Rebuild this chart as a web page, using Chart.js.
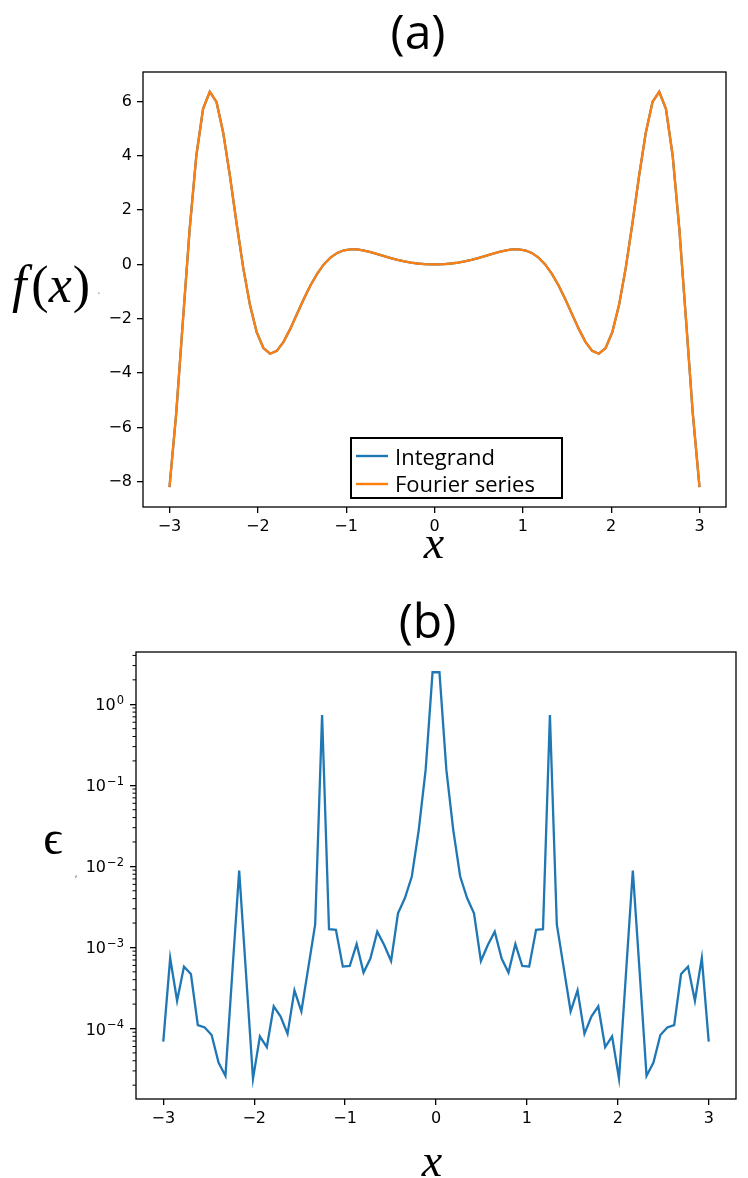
<!DOCTYPE html>
<html>
<head>
<meta charset="utf-8">
<script src="https://cdn.jsdelivr.net/npm/chart.js@4.4.1/dist/chart.umd.min.js"></script>
<style>
html,body{margin:0;padding:0;background:#fff;}
#wrap{position:relative;width:748px;height:1178px;overflow:hidden;}
canvas{position:absolute;left:0;}
#ca{top:0;}
#cb{top:580px;}
</style>
</head>
<body>
<div id="wrap">
<canvas id="ca" width="748" height="580"></canvas>
<canvas id="cb" width="748" height="598"></canvas>
</div>
<script>
// ---------- data ----------
const xValues = [
 -3.000,-2.924,-2.848,-2.772,-2.696,-2.620,-2.544,-2.468,-2.392,-2.316,
 -2.241,-2.165,-2.089,-2.013,-1.937,-1.861,-1.785,-1.709,-1.633,-1.557,
 -1.481,-1.405,-1.329,-1.253,-1.177,-1.101,-1.025,-0.949,-0.873,-0.797,
 -0.722,-0.646,-0.570,-0.494,-0.418,-0.342,-0.266,-0.190,-0.114,-0.038,
  0.038, 0.114, 0.190, 0.266, 0.342, 0.418, 0.494, 0.570, 0.646, 0.722,
  0.797, 0.873, 0.949, 1.025, 1.101, 1.177, 1.253, 1.329, 1.405, 1.481,
  1.557, 1.633, 1.709, 1.785, 1.861, 1.937, 2.013, 2.089, 2.165, 2.241,
  2.316, 2.392, 2.468, 2.544, 2.620, 2.696, 2.772, 2.848, 2.924, 3.000
];
const integrandValues = [
 -8.200,-5.482,-2.067, 1.294, 4.011, 5.733, 6.357, 5.983, 4.851, 3.263,
  1.520,-0.127,-1.496,-2.489,-3.076,-3.286,-3.182,-2.849,-2.371,-1.827,
 -1.279,-0.775,-0.344, 0.001, 0.255, 0.425, 0.522, 0.559, 0.552, 0.512,
  0.452, 0.381, 0.308, 0.237, 0.172, 0.116, 0.070, 0.036, 0.013, 0.001,
  0.001, 0.013, 0.036, 0.070, 0.116, 0.172, 0.237, 0.308, 0.381, 0.452,
  0.512, 0.552, 0.559, 0.522, 0.425, 0.255, 0.001,-0.344,-0.775,-1.279,
 -1.827,-2.371,-2.849,-3.182,-3.286,-3.076,-2.489,-1.496,-0.127, 1.520,
  3.263, 4.851, 5.983, 6.357, 5.733, 4.011, 1.294,-2.067,-5.482,-8.200
];
const fourierValues = [
 -8.200,-5.482,-2.067, 1.294, 4.011, 5.733, 6.357, 5.983, 4.851, 3.263,
  1.520,-0.127,-1.496,-2.489,-3.076,-3.286,-3.182,-2.849,-2.371,-1.827,
 -1.279,-0.775,-0.344, 0.001, 0.255, 0.425, 0.522, 0.559, 0.552, 0.512,
  0.452, 0.381, 0.308, 0.237, 0.172, 0.116, 0.070, 0.036, 0.013, 0.001,
  0.001, 0.013, 0.036, 0.070, 0.116, 0.172, 0.237, 0.308, 0.381, 0.452,
  0.512, 0.552, 0.559, 0.522, 0.425, 0.255, 0.001,-0.344,-0.775,-1.279,
 -1.827,-2.371,-2.849,-3.182,-3.286,-3.076,-2.489,-1.496,-0.127, 1.520,
  3.263, 4.851, 5.983, 6.357, 5.733, 4.011, 1.294,-2.067,-5.482,-8.200
];
const errorValues = [
 6.9e-5, 7.4e-4, 2.2e-4, 5.8e-4, 4.7e-4, 1.1e-4, 1.03e-4, 8.3e-5, 3.8e-5, 2.6e-5,
 4.8e-4, 8.9e-3, 4.6e-4, 2.4e-5, 8.0e-5, 5.9e-5, 1.88e-4, 1.4e-4, 8.6e-5, 2.96e-4,
 1.63e-4, 5.6e-4, 1.92e-3, 0.738, 1.68e-3, 1.65e-3, 5.8e-4, 5.9e-4, 1.1e-3, 4.9e-4,
 7.3e-4, 1.56e-3, 1.07e-3, 6.8e-4, 2.64e-3, 4.07e-3, 7.5e-3, 0.028, 0.155, 2.48,
 2.48, 0.155, 0.028, 7.5e-3, 4.07e-3, 2.64e-3, 6.8e-4, 1.07e-3, 1.56e-3, 7.3e-4,
 4.9e-4, 1.1e-3, 5.9e-4, 5.8e-4, 1.65e-3, 1.68e-3, 0.738, 1.92e-3, 5.6e-4, 1.63e-4,
 2.96e-4, 8.6e-5, 1.4e-4, 1.88e-4, 5.9e-5, 8.0e-5, 2.4e-5, 4.6e-4, 8.9e-3, 4.8e-4,
 2.6e-5, 3.8e-5, 8.3e-5, 1.03e-4, 1.1e-4, 4.7e-4, 5.8e-4, 2.2e-4, 7.4e-4, 6.9e-5
];
const seriesLabels = ['Integrand', 'Fourier series'];
const xTicks = [-3, -2, -1, 0, 1, 2, 3];
const xTickLabels = ['\u22123', '\u22122', '\u22121', '0', '1', '2', '3'];
const fTicks = [-8, -6, -4, -2, 0, 2, 4, 6];
const fTickLabels = ['\u22128', '\u22126', '\u22124', '\u22122', '0', '2', '4', '6'];
const eTicks = [1, 0.1, 0.01, 0.001, 0.0001];
const eTickBase = ['10', '10', '10', '10', '10'];
const eTickExp = ['0', '\u22121', '\u22122', '\u22123', '\u22124'];
const titles = ['(a)', '(b)'];

// ---------- styles ----------
const BLUE = '#1f77b4', ORANGE = '#ff7f0e';
const TICK_FONT = {family: 'DejaVu Sans', size: 16};
const SERIF = '"Liberation Serif", "DejaVu Serif", serif';
const SANS_T = '"Open Sans", "DejaVu Sans", sans-serif';

function drawRuns(ctx, item) {
  let total = 0;
  for (const r of item.runs) { ctx.font = r.font; total += ctx.measureText(r.t).width + (r.gap || 0); }
  let x = item.align === 'left' ? item.x : item.x - total / 2;
  ctx.textAlign = 'left';
  ctx.textBaseline = 'alphabetic';
  ctx.fillStyle = item.color || '#000';
  for (const r of item.runs) {
    ctx.font = r.font;
    ctx.fillText(r.t, x, item.y);
    x += ctx.measureText(r.t).width + (r.gap || 0);
  }
}

function framePlugin(opts) {
  return {
    id: 'frameText',
    afterDraw(chart) {
      const ctx = chart.ctx, a = chart.chartArea;
      ctx.save();
      ctx.strokeStyle = '#000';
      ctx.lineWidth = 1.3;
      ctx.strokeRect(a.left, a.top, a.right - a.left, a.bottom - a.top);
      if (opts.extra) opts.extra(chart, ctx);
      if (opts.legend) opts.legend(chart, ctx);
      for (const item of opts.texts) drawRuns(ctx, item);
      ctx.restore();
    }
  };
}

function axisGrid() {
  return {drawOnChartArea: false, drawTicks: true, tickLength: 6, color: '#000', lineWidth: 1.3};
}

// ---------- chart (a) ----------
new Chart(document.getElementById('ca'), {
  type: 'line',
  data: {
    datasets: [
      {label: seriesLabels[0], order: 1, data: xValues.map((x, i) => ({x: x, y: integrandValues[i]})),
       borderColor: BLUE, backgroundColor: BLUE, borderWidth: 2.3, pointRadius: 0, tension: 0, fill: false},
      {label: seriesLabels[1], order: 0, data: xValues.map((x, i) => ({x: x, y: fourierValues[i]})),
       borderColor: ORANGE, backgroundColor: ORANGE, borderWidth: 2.3, pointRadius: 0, tension: 0, fill: false}
    ]
  },
  options: {
    responsive: false, animation: false, devicePixelRatio: 1,
    layout: {padding: {left: 0, right: 22, top: 72, bottom: 0}},
    plugins: {legend: {display: false}, title: {display: false}, tooltip: {enabled: false}},
    scales: {
      x: {
        type: 'linear', min: -3.3, max: 3.3,
        afterFit(s) { s.height = 73; },
        afterBuildTicks(s) { s.ticks = xTicks.map(v => ({value: v})); },
        ticks: {callback: (v, i) => xTickLabels[i], font: TICK_FONT, color: '#000', padding: 4, maxRotation: 0, autoSkip: false},
        grid: axisGrid(), border: {display: false}
      },
      y: {
        type: 'linear', min: -8.928, max: 7.085,
        afterFit(s) { s.width = 143; },
        afterBuildTicks(s) { s.ticks = fTicks.map(v => ({value: v})); },
        ticks: {callback: (v, i) => fTickLabels[i], font: TICK_FONT, color: '#000', padding: 5, autoSkip: false},
        grid: axisGrid(), border: {display: false}
      }
    }
  },
  plugins: [framePlugin({
    legend(chart, ctx) {
      ctx.fillStyle = '#fff';
      ctx.fillRect(351, 438, 211, 60);
      ctx.strokeStyle = '#000';
      ctx.lineWidth = 2;
      ctx.strokeRect(351, 438, 211, 60);
      const ys = [456, 484];
      const base = [465, 492];
      chart.data.datasets.forEach((d, i) => {
        ctx.strokeStyle = d.borderColor;
        ctx.lineWidth = 2.4;
        ctx.beginPath(); ctx.moveTo(356, ys[i]); ctx.lineTo(388, ys[i]); ctx.stroke();
        ctx.fillStyle = '#000';
        ctx.font = '22px ' + SANS_T;
        ctx.textAlign = 'left'; ctx.textBaseline = 'alphabetic';
        ctx.fillText(d.label, 395, base[i]);
      });
    },
    texts: [
      {x: 418, y: 49, runs: [{t: titles[0], font: '48px ' + SANS_T}]},
      {x: 51, y: 302, runs: [
        {t: 'f', font: 'italic 52px ' + SERIF, gap: 5}, {t: '(', font: '52px ' + SERIF},
        {t: 'x', font: 'italic 52px ' + SERIF, gap: 1}, {t: ')', font: '52px ' + SERIF}]},
      {x: 99, y: 294, color: '#999', runs: [{t: '.', font: '12px "DejaVu Sans"'}]},
      {x: 434, y: 558, runs: [{t: 'x', font: 'italic 46px ' + SERIF}]}
    ]
  })]
});

// ---------- chart (b) ----------
new Chart(document.getElementById('cb'), {
  type: 'line',
  data: {
    datasets: [
      {label: '\u03F5', data: xValues.map((x, i) => ({x: x, y: errorValues[i]})),
       borderColor: BLUE, backgroundColor: BLUE, borderWidth: 2.3, pointRadius: 0, tension: 0, fill: false}
    ]
  },
  options: {
    responsive: false, animation: false, devicePixelRatio: 1,
    layout: {padding: {left: 0, right: 12, top: 72, bottom: 0}},
    plugins: {legend: {display: false}, title: {display: false}, tooltip: {enabled: false}},
    scales: {
      x: {
        type: 'linear', min: -3.3, max: 3.3,
        afterFit(s) { s.height = 79; },
        afterBuildTicks(s) { s.ticks = xTicks.map(v => ({value: v})); },
        ticks: {callback: (v, i) => xTickLabels[i], font: TICK_FONT, color: '#000', padding: 4, maxRotation: 0, autoSkip: false},
        grid: axisGrid(), border: {display: false}
      },
      y: {
        type: 'logarithmic', min: 1.35e-5, max: 4.41,
        afterFit(s) { s.width = 136; },
        afterBuildTicks(s) { s.ticks = eTicks.map(v => ({value: v, major: true})); },
        ticks: {display: false},
        grid: axisGrid(), border: {display: false}
      }
    }
  },
  plugins: [framePlugin({
    extra(chart, ctx) {
      const s = chart.scales.y, a = chart.chartArea;
      // minor ticks
      ctx.strokeStyle = '#000';
      ctx.lineWidth = 1;
      for (let e = -6; e <= 1; e++) {
        for (let m = 2; m <= 9; m++) {
          const v = m * Math.pow(10, e);
          if (v < s.min || v > s.max) continue;
          const y = s.getPixelForValue(v);
          ctx.beginPath(); ctx.moveTo(a.left - 3.5, y); ctx.lineTo(a.left, y); ctx.stroke();
        }
      }
      // major tick labels: 10 with raised exponent
      ctx.fillStyle = '#000';
      ctx.textBaseline = 'alphabetic';
      ctx.textAlign = 'left';
      eTicks.forEach((v, i) => {
        const y = s.getPixelForValue(v);
        ctx.font = '11.5px "DejaVu Sans"';
        const we = ctx.measureText(eTickExp[i]).width;
        ctx.font = '16px "DejaVu Sans"';
        const wb = ctx.measureText(eTickBase[i]).width;
        const right = a.left - 12;
        const x0 = right - we - wb - 1;
        ctx.fillText(eTickBase[i], x0, y + 6);
        ctx.font = '11.5px "DejaVu Sans"';
        ctx.fillText(eTickExp[i], x0 + wb + 1, y - 0.5);
      });
    },
    texts: [
      {x: 427.5, y: 58, runs: [{t: titles[1], font: '48px ' + SANS_T}]},
      {x: 53, y: 274, runs: [{t: '\u03F5', font: '48px ' + SERIF}]},
      {x: 76, y: 297, color: '#666', runs: [{t: ',', font: '10px "DejaVu Sans"'}]},
      {x: 432, y: 596, runs: [{t: 'x', font: 'italic 46px ' + SERIF}]}
    ]
  })]
});
</script>
</body>
</html>
